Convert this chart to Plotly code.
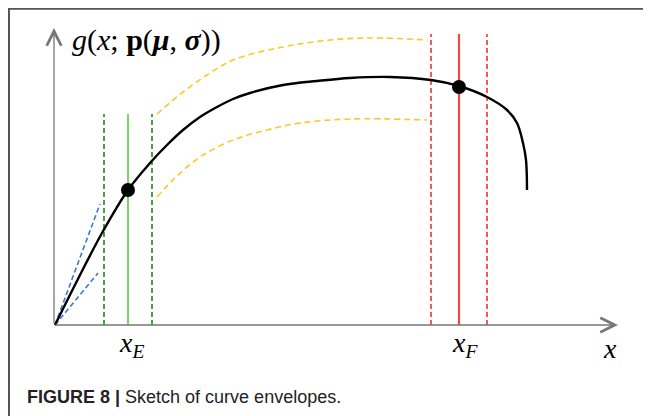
import plotly.graph_objects as go

# sketch units: origin of the drawn axes is (0, 0)
curve_x = [0, 0.23, 0.47, 0.73, 0.95, 1.12, 1.28, 1.45, 1.62, 1.78, 1.95, 2.28, 2.62, 2.95,
           3.35, 3.76, 4.04, 4.32, 4.52, 4.62, 4.68, 4.71, 4.72]
curve_y = [0, 0.46, 0.92, 1.35, 1.62, 1.80, 1.95, 2.08, 2.18, 2.26, 2.32, 2.40, 2.44, 2.47,
           2.48, 2.45, 2.39, 2.28, 2.15, 2.02, 1.82, 1.65, 1.35]

upper_env_x = [1.02, 1.28, 1.52, 1.78, 2.28, 2.75, 3.15, 3.73]
upper_env_y = [2.11, 2.33, 2.50, 2.65, 2.78, 2.85, 2.87, 2.85]
lower_env_x = [1.02, 1.20, 1.45, 1.78, 2.12, 2.45, 2.95, 3.72]
lower_env_y = [1.28, 1.47, 1.68, 1.85, 1.95, 2.02, 2.06, 2.05]

slope_hi_x = [0, 0.45]
slope_hi_y = [0, 1.21]
slope_lo_x = [0, 0.43]
slope_lo_y = [0, 0.52]

x_E = 0.73
x_E_band = [0.49, 0.97]
x_E_top = 2.11
x_F = 4.04
x_F_band = [3.76, 4.32]
x_F_top = 2.91

points_x = [0.73, 4.04]
points_y = [1.35, 2.38]

x_axis_end = 5.63
y_axis_end = 2.97

W, H = 643, 408  # page body adds an 8px margin

fig = go.Figure()

# blue initial-slope envelope
for xs, ys in [(slope_hi_x, slope_hi_y), (slope_lo_x, slope_lo_y)]:
    fig.add_trace(go.Scatter(x=xs, y=ys, mode="lines",
                             line=dict(color="#3a78cc", width=1.6, dash="5px,3px")))

# yellow envelopes around the plateau
for xs, ys in [(upper_env_x, upper_env_y), (lower_env_x, lower_env_y)]:
    fig.add_trace(go.Scatter(x=xs, y=ys, mode="lines", line_shape="spline",
                             line=dict(color="#ffc624", width=1.6, dash="6px,4px")))

# green band around x_E
for xv in x_E_band:
    fig.add_trace(go.Scatter(x=[xv, xv], y=[0, x_E_top], mode="lines",
                             line=dict(color="#3f9e3f", width=1.9, dash="5px,3px")))
fig.add_trace(go.Scatter(x=[x_E, x_E], y=[0, x_E_top], mode="lines",
                         line=dict(color="#5fd24a", width=1.7)))

# red band around x_F
for xv in x_F_band:
    fig.add_trace(go.Scatter(x=[xv, xv], y=[0, x_F_top], mode="lines",
                             line=dict(color="#f24a4a", width=1.8, dash="5px,3px")))
fig.add_trace(go.Scatter(x=[x_F, x_F], y=[0, x_F_top], mode="lines",
                         line=dict(color="#f24a4a", width=2.2)))

# main curve
fig.add_trace(go.Scatter(x=curve_x, y=curve_y, mode="lines", line_shape="spline",
                         line=dict(color="black", width=2.4)))
fig.add_trace(go.Scatter(x=points_x, y=points_y, mode="markers",
                         marker=dict(color="black", size=14)))

# axes with open arrow heads
axis_arrow = dict(showarrow=True, arrowhead=5, arrowsize=2.2, arrowwidth=1.3,
                  arrowcolor="#777777", xref="x", yref="y", axref="x", ayref="y", text="")
fig.add_annotation(x=x_axis_end, y=0, ax=-0.01, ay=0, **axis_arrow)
fig.add_annotation(x=-0.01, y=y_axis_end, ax=-0.01, ay=0, **axis_arrow)

serif = dict(family="Liberation Serif, DejaVu Serif, serif", color="black")
fig.add_annotation(x=0.15, y=2.85, xref="x", yref="y", xanchor="left", yanchor="middle",
                   showarrow=False, font=dict(size=30, **serif),
                   text="<i>g</i>(<i>x</i>; <b>p</b>(<b><i>μ</i></b>, <b><i>σ</i></b>))")
fig.add_annotation(x=0.62, y=-0.19, xref="x", yref="y", xanchor="left", yanchor="middle",
                   showarrow=False, font=dict(size=28, **serif),
                   text="<i>x</i><sub><i>E</i></sub>")
fig.add_annotation(x=3.95, y=-0.19, xref="x", yref="y", xanchor="left", yanchor="middle",
                   showarrow=False, font=dict(size=28, **serif),
                   text="<i>x</i><sub><i>F</i></sub>")
fig.add_annotation(x=5.55, y=-0.23, xref="x", yref="y", xanchor="center", yanchor="middle",
                   showarrow=False, font=dict(size=28, **serif), text="<i>x</i>")

# caption
fig.add_annotation(x=(25 - 8) / W, y=1 - (397 - 8) / H, xref="paper", yref="paper",
                   xanchor="left", yanchor="middle", showarrow=False,
                   font=dict(size=18, family="Liberation Sans, Arial, sans-serif", color="#222222"),
                   text="<b>FIGURE 8 |</b> Sketch of curve envelopes.")

# frame (top and left edges)
fig.add_shape(type="line", xref="paper", yref="paper", x0=1 / W, x1=1, y0=1 - 0.5 / H, y1=1 - 0.5 / H,
              line=dict(color="#555555", width=2.5))
fig.add_shape(type="line", xref="paper", yref="paper", x0=1 / W, x1=1 / W, y0=0, y1=1,
              line=dict(color="#555555", width=2))

fig.update_layout(
    width=W, height=H,
    margin=dict(l=0, r=0, t=0, b=0),
    showlegend=False,
    plot_bgcolor="white", paper_bgcolor="white",
    xaxis=dict(range=[-0.47, 5.96], visible=False, fixedrange=True),
    yaxis=dict(range=[-0.91, 3.17], visible=False, fixedrange=True),
)

fig.write_html("out.html")
